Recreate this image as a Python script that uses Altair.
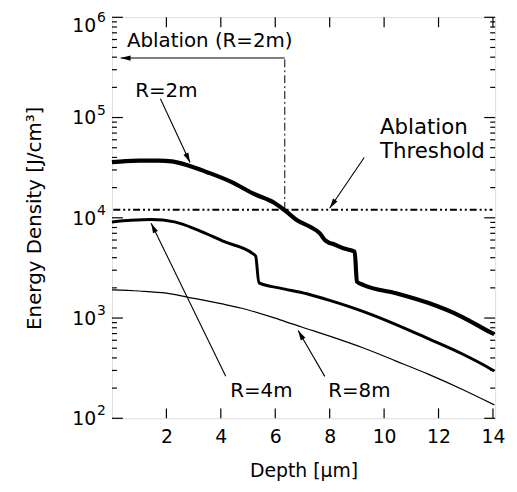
import math
import altair as alt
import pandas as pd

# ---------------- data ----------------
depth_r2 = [0.0, 0.5, 1.0, 1.7, 2.2, 2.8, 3.5, 4.4, 5.2, 6.0, 6.35, 6.8, 7.28, 7.64, 7.82, 7.95, 8.13, 8.5, 8.92, 9.0, 9.25, 10.44, 11.64, 12.86, 13.95, 14.05]
energy_r2 = [35900, 36800, 37200, 37200, 36500, 33300, 28500, 22700, 17400, 13900, 11900, 9460, 8130, 6990, 6000, 5690, 5470, 4960, 4590, 2310, 2130, 1770, 1410, 1030, 711, 690]

depth_r4 = [0.0, 0.7, 1.45, 2.3, 3.16, 4.13, 5.16, 5.28, 5.40, 6.18, 7.16, 8.0, 9.22, 10.44, 11.64, 12.86, 13.95, 14.05]
energy_r4 = [9100, 9450, 9620, 9100, 7540, 5770, 4420, 4150, 2240, 1990, 1745, 1500, 1165, 861, 620, 440, 307, 296]

depth_r8 = [0.0, 1.0, 2.0, 2.8, 4.0, 4.73, 6.18, 7.0, 8.0, 9.22, 10.44, 11.64, 12.86, 14.05]
energy_r8 = [1910, 1860, 1770, 1610, 1390, 1260, 960, 810, 660, 505, 372, 274, 195, 136]

threshold = 12000
ablation_depth = 6.35
ablation_level = 392000

x_ticks = [2, 4, 6, 8, 10, 12, 14]
y_major = [1e2, 1e3, 1e4, 1e5, 1e6]
y_exponents = ["2", "3", "4", "5", "6"]
y_minor = [m * 10 ** e for e in range(2, 6) for m in range(2, 10)]

label_text = ["R=2m", "Ablation (R=2m)", "Ablation", "Threshold", "R=4m", "R=8m"]
label_x = [2.0, 0.55, 9.85, 9.85, 5.49, 9.09]
label_y = [184500, 578000, 78300, 45300, 186, 186]
label_align = ["center", "left", "left", "left", "center", "center"]
label_size = [20, 20, 21.5, 21.5, 20, 20]

arrow_from_x = [1.78, 9.27, 4.18, 7.82, ablation_depth]
arrow_from_y = [153800, 39900, 262, 262, ablation_level]
arrow_to_x = [2.87, 8.0, 1.44, 6.84, 0.32]
arrow_to_y = [35600, 12450, 8830, 750, ablation_level]

# ---------------- layout ----------------
W, H = 387, 405
X_MAX = 14.08
FONT = "DejaVu Sans"


def to_px(d, v):
    return d / X_MAX * W, (6 - math.log10(v)) / 4 * H


angles = []
for fx, fy, tx, ty in zip(arrow_from_x, arrow_from_y, arrow_to_x, arrow_to_y):
    x0, y0 = to_px(fx, fy)
    x1, y1 = to_px(tx, ty)
    angles.append(math.degrees(math.atan2(x1 - x0, -(y1 - y0))) % 360)

x_scale = alt.Scale(domain=[0, X_MAX], nice=False, zero=False)
y_scale = alt.Scale(type="log", domain=[100, 1e6], nice=False)
x_axis = alt.Axis(values=x_ticks, title="Depth [μm]", ticks=False, tickSize=0, domain=False,
                  grid=False, labelFont=FONT, labelFontSize=19, labelColor="black", labelPadding=9,
                  titleFont=FONT, titleFontSize=19, titleFontWeight="normal", titleColor="black",
                  titlePadding=16)
y_axis = alt.Axis(labels=False, ticks=False, tickSize=0, domain=False, grid=False,
                  title="Energy Density [J/cm³]", titleFont=FONT, titleFontSize=20,
                  titleFontWeight="normal", titleColor="black", titlePadding=68)


def X(field="x"):
    return alt.X(f"{field}:Q", scale=x_scale, axis=x_axis)


def Y(field="y"):
    return alt.Y(f"{field}:Q", scale=y_scale, axis=y_axis)


def curve(xs, ys, width):
    df = pd.DataFrame({"x": xs, "y": ys, "i": range(len(xs))})
    return alt.Chart(df).mark_line(color="black", strokeWidth=width, strokeJoin="round",
                                   interpolate="monotone").encode(
        x=X(), y=Y(), order="i:Q")


layers = []
layers.append(curve(depth_r2, energy_r2, 4.2))
layers.append(curve(depth_r4, energy_r4, 3.0))
layers.append(curve(depth_r8, energy_r8, 1.2))

# threshold (dash-dot-dot)
th_df = pd.DataFrame({"x": [0.05], "x2": [X_MAX - 0.1], "y": [threshold]})
layers.append(alt.Chart(th_df).mark_rule(color="black", strokeWidth=2, strokeDash=[7, 3, 2, 3, 2, 3]).encode(
    x=X(), x2="x2:Q", y=Y()))

# vertical ablation line (dash-dot)
v_df = pd.DataFrame({"x": [ablation_depth], "y": [threshold], "y2": [ablation_level]})
layers.append(alt.Chart(v_df).mark_rule(color="black", strokeWidth=1, strokeDash=[8, 3, 2, 3]).encode(
    x=X(), y=Y(), y2="y2:Q"))

# arrows
ar_df = pd.DataFrame({"x": arrow_from_x, "y": arrow_from_y, "x2": arrow_to_x, "y2": arrow_to_y, "ang": angles})
layers.append(alt.Chart(ar_df).mark_rule(color="black", strokeWidth=1.1).encode(
    x=X(), y=Y(), x2="x2:Q", y2="y2:Q"))
head_df = pd.DataFrame({"x": arrow_to_x, "y": arrow_to_y, "ang": angles})
layers.append(alt.Chart(head_df).mark_point(shape="M0,0L-0.27,1L0.27,1Z", filled=True, opacity=1,
                                            color="black", size=400, strokeWidth=0).encode(
    x=X(), y=Y(), angle=alt.Angle("ang:Q", scale=None)))

# text labels
lab_df = pd.DataFrame({"x": label_x, "y": label_y, "t": label_text, "a": label_align, "s": label_size})
for al in ["left", "center"]:
    layers.append(alt.Chart(lab_df[lab_df.a == al]).mark_text(
        font=FONT, color="black", align=al, baseline="middle").encode(
        x=X(), y=Y(), text="t:N", size=alt.Size("s:Q", scale=None, legend=None)))

# inward ticks
xt_df = pd.DataFrame({"x": x_ticks})
layers.append(alt.Chart(xt_df).mark_rule(color="black", strokeWidth=1.2).encode(
    x=X(), y=alt.value(0), y2=alt.value(10)))
layers.append(alt.Chart(xt_df).mark_rule(color="black", strokeWidth=1.2).encode(
    x=X(), y=alt.value(H), y2=alt.value(H - 10)))
ymj_df = pd.DataFrame({"y": y_major, "e": y_exponents})
ymn_df = pd.DataFrame({"y": y_minor})
for df, ln in [(ymj_df, 11), (ymn_df, 5)]:
    layers.append(alt.Chart(df).mark_rule(color="black", strokeWidth=1.2).encode(
        y=Y(), x=alt.value(0), x2=alt.value(ln)))
    layers.append(alt.Chart(df).mark_rule(color="black", strokeWidth=1.2).encode(
        y=Y(), x=alt.value(W), x2=alt.value(W - ln)))

# y tick labels 10^n (the top one sits a little lower, as in the reference)
ymj_df["b"] = "10"
inner = ymj_df[ymj_df.y < 1e6]
top = ymj_df[ymj_df.y >= 1e6]
for df, shift in [(inner, 0), (top, 8)]:
    layers.append(alt.Chart(df).mark_text(font=FONT, fontSize=19, color="black", align="right",
                                          baseline="middle", dy=1 + shift).encode(
        y=Y(), x=alt.value(-16), text="b:N"))
    layers.append(alt.Chart(df).mark_text(font=FONT, fontSize=14, color="black", align="left",
                                          baseline="middle", dy=-7 + shift).encode(
        y=Y(), x=alt.value(-15), text="e:N"))

chart = alt.layer(*layers).properties(
    width=W, height=H,
    padding={"left": 105, "top": 7, "right": 14, "bottom": 66},
    autosize=alt.AutoSizeParams(type="none"),
).configure_view(stroke="black", strokeWidth=1.5).configure(background="white")

chart.save("out.html", embed_options={"renderer": "svg", "actions": False})
